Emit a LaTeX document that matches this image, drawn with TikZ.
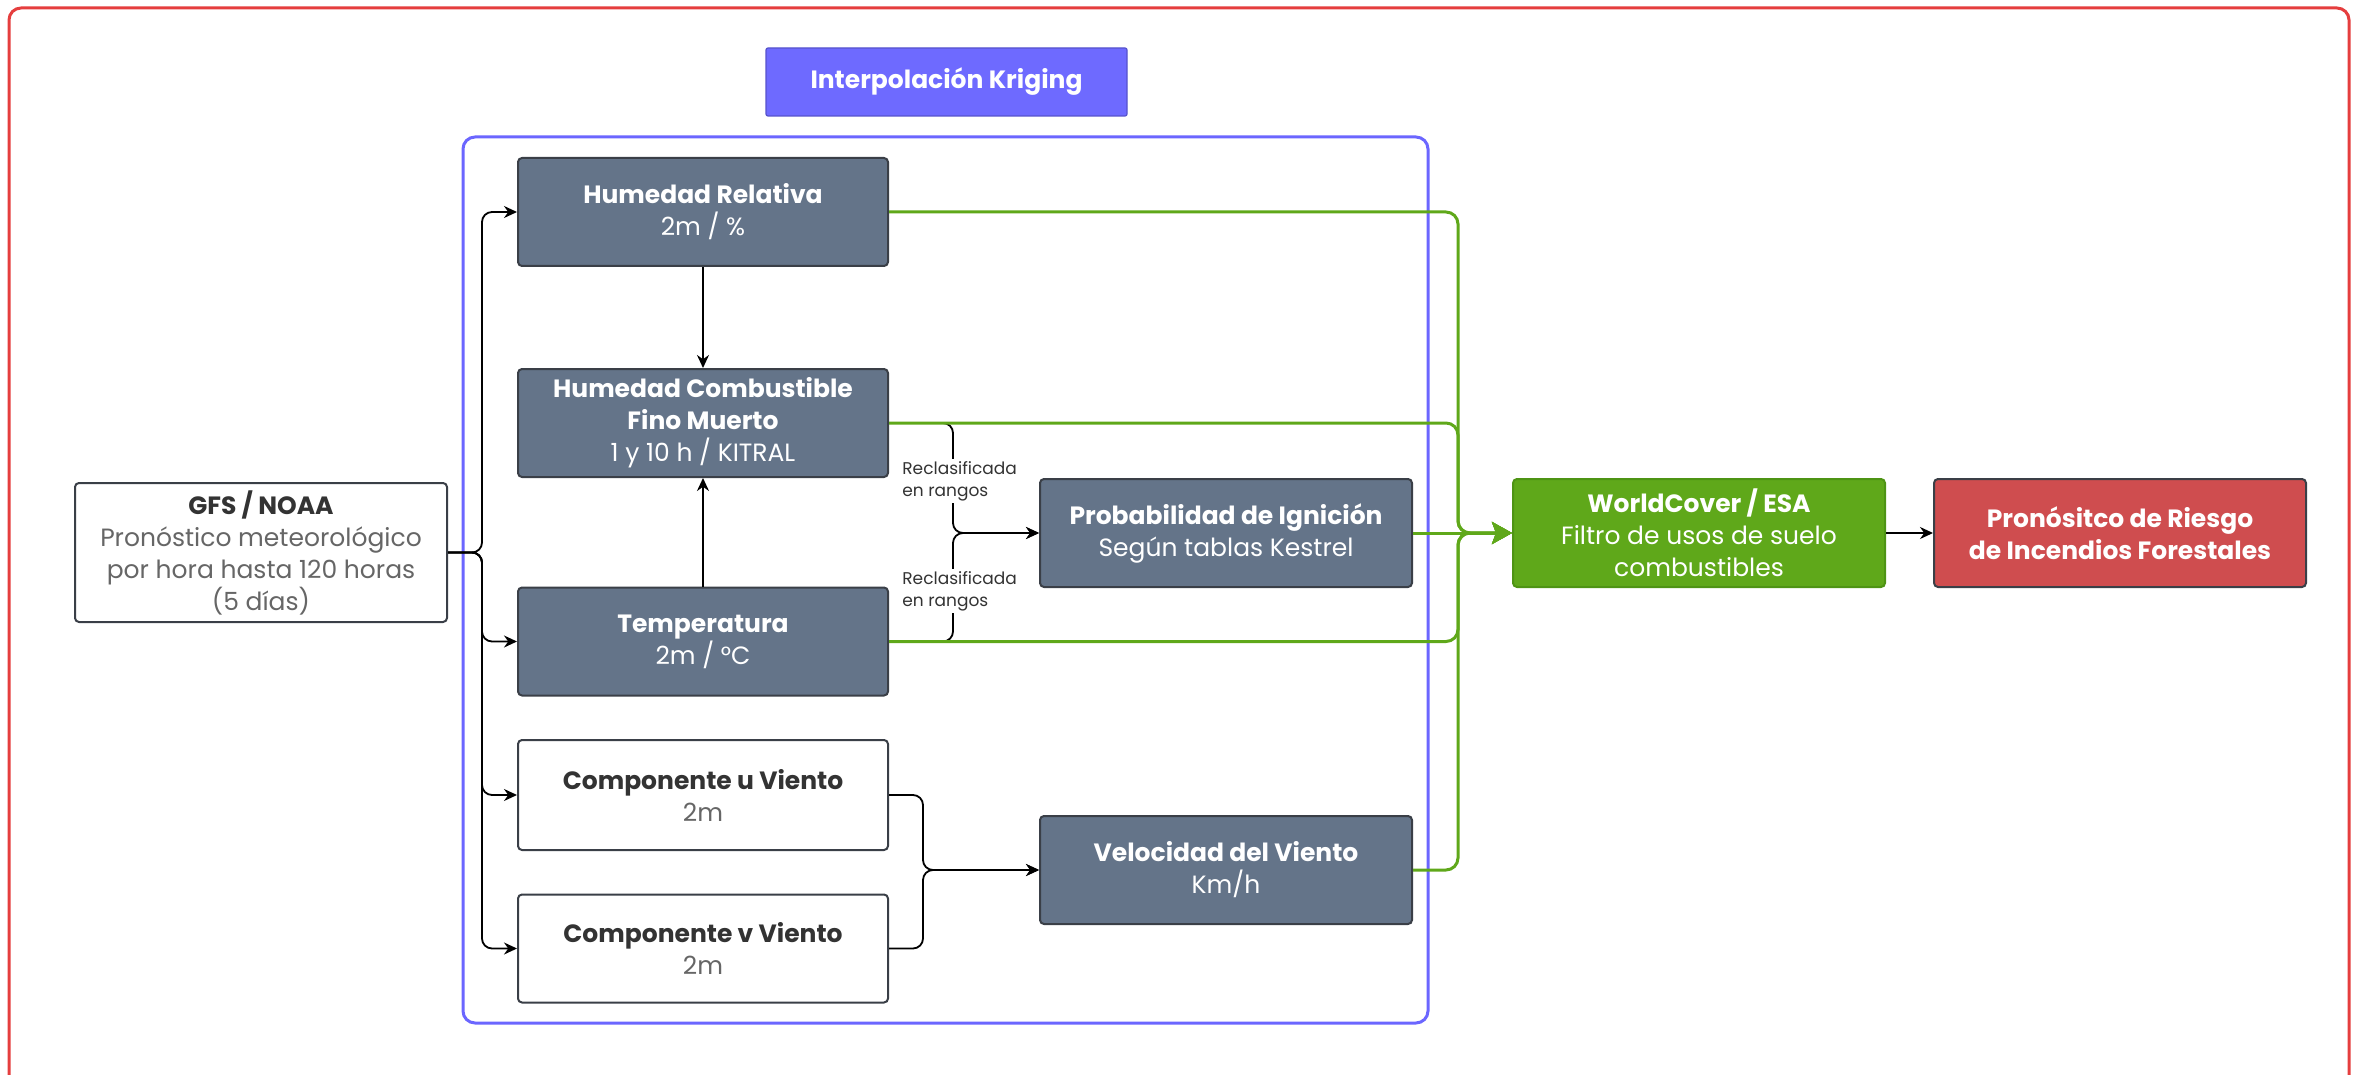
\documentclass[tikz,border=0pt]{standalone}
\usepackage{fontspec}
\setmainfont{Poppins}
\usetikzlibrary{arrows.meta}
\definecolor{slate}{HTML}{647489}
\definecolor{boxb}{HTML}{3A3F47}
\definecolor{grn}{HTML}{5FA81A}
\definecolor{grnb}{HTML}{4E9414}
\definecolor{rbox}{HTML}{CF4D4F}
\definecolor{kfill}{HTML}{6E6AFF}
\definecolor{kframe}{HTML}{6B66FF}
\definecolor{rframe}{HTML}{E53E3E}
\definecolor{txtdark}{HTML}{333333}
\definecolor{txtgrey}{HTML}{666666}
\begin{document}
\begin{tikzpicture}[x=0.5pt,y=-0.5pt,
  box/.style={draw=boxb, line width=1pt, rounded corners=2pt, minimum width=185pt, minimum height=54pt, align=center, inner sep=2pt, font=\fontsize{12.5}{16}\selectfont},
  darkbox/.style={box, fill=slate, text=white},
  lightbox/.style={box, fill=white, text=txtgrey},
  greenbox/.style={box, fill=grn, draw=grnb, text=white},
  redbox/.style={box, fill=rbox, text=white},
  blk/.style={draw=black, line width=0.9pt, rounded corners=5pt, -{Stealth[length=6.5pt,width=6pt]}},
  gline/.style={draw=grn, line width=1.5pt, rounded corners=6pt, -{Stealth[length=10pt,width=11pt,inset=2pt]}},
  lbl/.style={fill=white, inner sep=1pt, align=left, font=\fontsize{8.5}{11}\selectfont, text=txtdark, anchor=west},
]
\useasboundingbox (0,0) rectangle (2360,1075);
% frames
\draw[rframe, line width=1.5pt, rounded corners=6pt] (9,8) rectangle (2349,1100);
\draw[kframe, line width=1.5pt, rounded corners=6pt] (463,137) rectangle (1428,1023);
\node[fill=kfill, draw=kframe!80!black, line width=0.6pt, rounded corners=1pt, minimum width=180.5pt, minimum height=34pt, text=white, font=\fontsize{12.5}{15}\selectfont\bfseries] (krig) at (946.5,82) {Interpolación Kriging};

% nodes
\node[lightbox, minimum width=186pt, minimum height=69.5pt] (gfs) at (261,552.5) {\textcolor{txtdark}{\bfseries GFS / NOAA}\\Pronóstico meteorológico\\por hora hasta 120 horas\\(5 días)};
\node[darkbox] (hr) at (703,212) {{\bfseries Humedad Relativa}\\2m / \%};
\node[darkbox] (hcfm) at (703,423) {{\bfseries Humedad Combustible}\\{\bfseries Fino Muerto}\\1 y 10 h / KITRAL};
\node[darkbox] (temp) at (703,641.5) {{\bfseries Temperatura}\\2m / °C};
\node[lightbox, minimum height=55pt] (cu) at (703,795) {\textcolor{txtdark}{\bfseries Componente u Viento}\\2m};
\node[lightbox] (cv) at (703,948.5) {\textcolor{txtdark}{\bfseries Componente v Viento}\\2m};
\node[darkbox, minimum width=186pt] (prob) at (1226,533) {{\bfseries Probabilidad de Ignición}\\Según tablas Kestrel};
\node[darkbox, minimum width=186pt] (vel) at (1226,870) {{\bfseries Velocidad del Viento}\\Km/h};
\node[greenbox, minimum width=186pt] (wc) at (1699,533) {{\bfseries WorldCover / ESA}\\Filtro de usos de suelo\\combustibles};
\node[redbox, minimum width=186pt] (pron) at (2120,533) {\bfseries Pronósitco de Riesgo\\\bfseries de Incendios Forestales};

% bus coordinates
\coordinate (bus) at (482,0);
\coordinate (rbus) at (953,0);
\coordinate (wbus) at (923,0);
\coordinate (gbus) at (1458,0);

% GFS fan-out
\draw[blk] (gfs.east) -- (gfs.east -| bus) -- (hr.west -| bus) -- (hr.west);
\draw[blk] (gfs.east) -- (gfs.east -| bus) -- (temp.west -| bus) -- (temp.west);
\draw[blk] (gfs.east) -- (gfs.east -| bus) -- (cu.west -| bus) -- (cu.west);
\draw[blk] (gfs.east) -- (gfs.east -| bus) -- (cv.west -| bus) -- (cv.west);

% vertical links
\draw[blk] (hr.south) -- (hcfm.north);
\draw[blk] (temp.north) -- (hcfm.south);

% reclassification branches
\draw[blk] (hcfm.east) -- (hcfm.east -| rbus) -- (prob.west -| rbus) -- (prob.west);
\draw[blk] (temp.east) -- (temp.east -| rbus) -- (prob.west -| rbus) -- (prob.west);

% wind
\draw[blk] (cu.east) -- (cu.east -| wbus) -- (vel.west -| wbus) -- (vel.west);
\draw[blk] (cv.east) -- (cv.east -| wbus) -- (vel.west -| wbus) -- (vel.west);

% green links to WorldCover
\draw[gline] (hr.east) -- (hr.east -| gbus) -- (wc.west -| gbus) -- (wc.west);
\draw[gline] (hcfm.east) -- (hcfm.east -| gbus) -- (wc.west -| gbus) -- (wc.west);
\draw[gline] (temp.east) -- (temp.east -| gbus) -- (wc.west -| gbus) -- (wc.west);
\draw[gline] (vel.east) -- (vel.east -| gbus) -- (wc.west -| gbus) -- (wc.west);
\draw[gline] (prob.east) -- (wc.west);

% final
\draw[blk] (wc.east) -- (pron.west);

% labels
\node[lbl] (l1) at (900,481) {Reclasificada\\en rangos};
\node[lbl] (l2) at (900,591) {Reclasificada\\en rangos};
\end{tikzpicture}
\end{document}
